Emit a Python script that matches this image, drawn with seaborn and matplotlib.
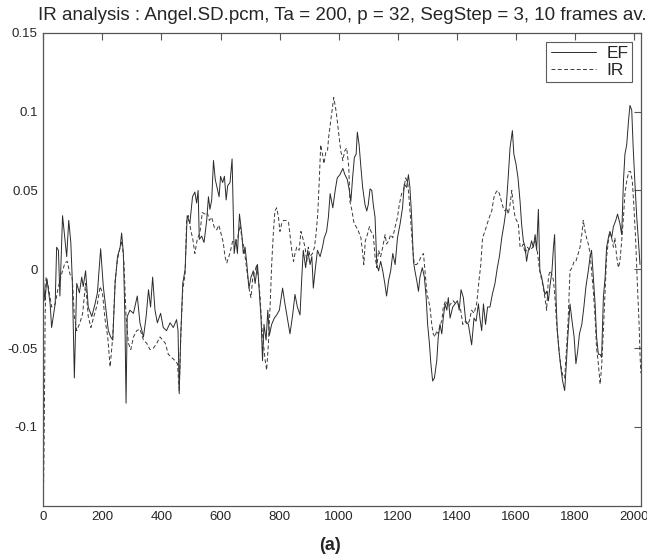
import numpy as np
import pandas as pd
import matplotlib
matplotlib.use("Agg")
import matplotlib.pyplot as plt
import seaborn as sns

# EF curve (solid)
ef_x = [0, 5, 12, 23, 28, 40, 45, 51, 56, 65, 73, 79, 86, 93, 98, 105, 113, 122, 130, 135,
        143, 152, 164, 175, 183, 194, 203, 211, 220, 228, 235, 243, 251, 260, 265, 271, 276, 280, 284, 293,
        305, 318, 327, 339, 348, 356, 363, 370, 378, 386, 397, 406, 417, 429, 440, 451, 456, 460, 465, 472,
        480, 487, 496, 505, 513, 519, 524, 528, 536, 544, 553, 559, 564, 570, 576, 582, 589, 595, 600, 607,
        613, 619, 624, 632, 639, 646, 652, 657, 664,
        672, 677, 683, 689, 696, 703, 711, 717, 725, 731, 737, 742, 747, 754, 760, 765, 773, 782, 790, 799,
        810, 818, 826, 835, 844, 852, 860, 869, 875, 880, 888, 895, 903, 909, 914, 920, 928, 937, 945, 951,
        959, 965, 971, 980, 988, 995, 1004, 1014, 1021, 1029, 1036, 1041, 1047, 1053, 1059, 1063, 1069, 1075,
        1081, 1089, 1095, 1100, 1106, 1112, 1117, 1123, 1129, 1135, 1142, 1149, 1156, 1162, 1169, 1176, 1183,
        1191, 1199, 1208, 1216, 1222, 1230, 1236, 1241, 1247, 1253, 1258, 1264, 1270, 1275, 1283, 1290, 1296,
        1301, 1307, 1312, 1318, 1324, 1332, 1337,
        1343, 1349, 1354, 1360, 1366, 1371, 1377, 1386, 1394, 1402, 1408, 1414, 1422, 1430, 1439, 1450, 1458,
        1465, 1473, 1478, 1484, 1490, 1497, 1504, 1512, 1520, 1529, 1537, 1544, 1552, 1560, 1566, 1573, 1580,
        1588, 1593, 1600, 1607, 1614, 1619, 1625, 1631, 1636, 1642, 1648, 1653, 1659, 1665, 1670, 1676, 1681,
        1687, 1693, 1698, 1704, 1710, 1715, 1722, 1727, 1731, 1736, 1740, 1747, 1753, 1758, 1765, 1770, 1775,
        1783, 1790, 1797, 1803, 1809, 1815, 1823, 1830, 1837, 1845, 1851, 1856, 1862, 1868, 1873, 1879, 1885,
        1890, 1896, 1902, 1907, 1913, 1918, 1924, 1930, 1938, 1944, 1952, 1958, 1964, 1969, 1975, 1981, 1986,
        1992, 1997, 2003, 2009, 2014, 2020]
ef_y = [-0.005, -0.020, -0.006, -0.022, -0.037, -0.022, 0.014, 0.012, -0.017, 0.034, 0.019, 0.008, 0.031, 0.017, -0.007, -0.069, -0.009, -0.015, -0.005, -0.011,
        -0.001, -0.024, -0.030, -0.022, -0.015, 0.013, -0.011, -0.024, -0.039, -0.043, -0.045, -0.009, 0.008, 0.014, 0.023, 0.010, -0.030, -0.085, -0.030, -0.026,
        -0.028, -0.017, -0.034, -0.043, -0.030, -0.013, -0.024, -0.005, -0.026, -0.034, -0.028, -0.037, -0.039, -0.034, -0.037, -0.032, -0.039, -0.079, -0.043, -0.009,
        0.000, 0.034, 0.029, 0.046, 0.049, 0.042, 0.050, 0.019, 0.021, 0.017, 0.031, 0.046, 0.038, 0.044, 0.069, 0.057, 0.051, 0.046, 0.059, 0.055,
        0.059, 0.044, 0.053, 0.055, 0.070, 0.010, 0.019, 0.010, 0.035,
        0.022, 0.010, 0.014, 0.003, -0.012, -0.005, -0.001, -0.009, 0.003, -0.014, -0.031, -0.058, -0.035, -0.045, -0.026, -0.042, -0.035, -0.031, -0.029, -0.026,
        -0.012, -0.022, -0.031, -0.041, -0.029, -0.016, -0.024, -0.029, -0.005, 0.012, 0.001, 0.012, 0.003, 0.008, -0.012, -0.001, 0.012, 0.008, 0.014, 0.020,
        0.024, 0.033, 0.048, 0.039, 0.050, 0.058, 0.060, 0.064, 0.060, 0.057, 0.050, 0.043, 0.058, 0.071, 0.073, 0.087, 0.079, 0.065,
        0.052, 0.041, 0.037, 0.041, 0.051, 0.050, 0.041, 0.033, 0.003, -0.001, 0.005, -0.001, -0.009, -0.017, -0.007, -0.001, 0.010,
        0.003, 0.020, 0.029, 0.039, 0.054, 0.052, 0.060, 0.052, 0.033, 0.005, -0.001, -0.007, -0.014, -0.005, 0.001, -0.005, -0.018,
        -0.035, -0.047, -0.060, -0.071, -0.069, -0.058, -0.043,
        -0.035, -0.041, -0.031, -0.022, -0.026, -0.018, -0.031, -0.024, -0.022, -0.020, -0.026, -0.013, -0.018, -0.033, -0.035, -0.048, -0.031,
        -0.033, -0.022, -0.031, -0.039, -0.022, -0.035, -0.024, -0.024, -0.016, -0.009, 0.001, 0.008, 0.020, 0.029, 0.037, 0.056, 0.077,
        0.088, 0.073, 0.067, 0.058, 0.043, 0.029, 0.018, 0.014, 0.005, 0.012, 0.014, 0.018, 0.014, 0.022, 0.012, 0.038, -0.001,
        -0.005, -0.011, -0.016, -0.014, -0.020, -0.011, -0.001, 0.014, 0.022, -0.020, -0.039, -0.054, -0.064, -0.071, -0.077, -0.062, -0.045,
        -0.022, -0.033, -0.043, -0.060, -0.052, -0.041, -0.035, -0.024, -0.011, -0.001, 0.008, 0.012, -0.005, -0.022, -0.043, -0.054, -0.054,
        -0.056, -0.018, -0.005, 0.014, 0.020, 0.024, 0.020, 0.027, 0.031, 0.035, 0.029, 0.022, 0.056, 0.073, 0.079, 0.094, 0.104,
        0.101, 0.077, 0.054, 0.033, 0.020, 0.003]

# IR curve (dashed)
ir_x = [0, 2, 4, 6, 9, 17, 28, 40, 51, 62, 73, 81, 90, 98, 105, 113, 124, 133, 143, 152,
        161, 171, 183, 192, 200, 209, 218, 226, 235, 243, 251, 260, 266, 273, 280, 288, 296, 305, 316, 327,
        339, 350, 361, 373, 384, 395, 404, 413, 423, 434, 446, 454, 460, 466, 472, 480, 485, 491, 499, 506,
        513, 521, 530, 538, 547, 555, 562, 570, 578, 587, 594, 601, 609, 615, 621, 628, 634, 641, 649, 657,
        666, 672, 679, 689, 698, 703, 709, 717, 722, 728, 734, 739, 745, 751, 756, 762, 768, 773, 779, 784,
        790, 796, 801, 807, 813, 822, 830, 835, 841, 847, 852, 858, 866, 872, 878, 886, 892, 897, 903, 911,
        918, 923, 929, 935, 939, 945, 950, 956, 962, 966, 973, 979, 983, 989, 994, 1000, 1007, 1014, 1020,
        1027, 1034, 1038, 1045, 1052, 1059, 1067, 1075, 1080, 1085, 1090, 1097, 1104, 1109, 1117, 1123, 1129,
        1135, 1142, 1149, 1157, 1162, 1169, 1176, 1183, 1191, 1199, 1205, 1213, 1219, 1227, 1234, 1239, 1245,
        1251, 1256, 1264, 1272, 1279, 1287, 1292, 1298, 1304, 1309, 1315, 1320, 1326, 1332, 1337,
        1343, 1349, 1354, 1362, 1371, 1379, 1388, 1396, 1405, 1413, 1420, 1428, 1435, 1442, 1450, 1458, 1467,
        1475, 1481, 1487, 1495, 1503, 1510, 1518, 1526, 1533, 1538, 1544, 1551, 1557, 1563, 1569, 1574, 1580,
        1586, 1591, 1597, 1602, 1608, 1614, 1619, 1625, 1631, 1639, 1648, 1657, 1665, 1672, 1679, 1685, 1690,
        1698, 1704, 1710, 1715, 1721, 1727, 1732, 1738, 1746, 1751, 1758, 1765, 1772, 1777, 1783, 1790, 1797,
        1803, 1811, 1817, 1823, 1828, 1834, 1839, 1845, 1851, 1856, 1862, 1868, 1873, 1879, 1885, 1890, 1896,
        1902, 1907, 1913, 1918, 1924, 1930, 1935, 1941, 1947, 1952, 1958, 1964, 1969, 1975, 1982, 1988, 1994,
        1999, 2005, 2011, 2017, 2020, 2023]
ir_y = [-0.148, -0.120, -0.080, -0.030, -0.005, -0.011, -0.024, -0.022, -0.011, -0.003, 0.004, 0.005, -0.003, -0.006, -0.030, -0.039, -0.034, -0.028, -0.009, -0.030,
        -0.037, -0.030, -0.022, -0.011, -0.015, -0.032, -0.043, -0.062, -0.043, -0.007, 0.006, 0.014, 0.018, 0.004, -0.030, -0.047, -0.051, -0.043, -0.039, -0.038,
        -0.045, -0.047, -0.051, -0.050, -0.047, -0.043, -0.045, -0.047, -0.054, -0.056, -0.058, -0.060, -0.077, -0.039, -0.013, -0.003, 0.031, 0.034, 0.025, 0.019,
        0.010, 0.019, 0.023, 0.036, 0.035, 0.036, 0.031, 0.033, 0.027, 0.025, 0.028, 0.023, 0.017, 0.008, 0.004, 0.008, 0.012, 0.018, 0.017, 0.019,
        0.028, 0.020, 0.014, -0.001, -0.014, -0.018, -0.005, -0.001, 0.003, -0.005, -0.018, -0.035, -0.047, -0.058, -0.064, -0.047, -0.022, 0.003, 0.024, 0.037,
        0.039, 0.033, 0.024, 0.029, 0.031, 0.031, 0.030, 0.022, 0.012, 0.005, 0.010, 0.014, 0.012, 0.024, 0.020, 0.014, 0.005, 0.014, 0.008, 0.010,
        0.014, 0.022, 0.035, 0.060, 0.079, 0.073, 0.067, 0.074, 0.075, 0.084, 0.094, 0.103, 0.109, 0.103, 0.096, 0.086, 0.075, 0.069, 0.075,
        0.077, 0.065, 0.043, 0.037, 0.029, 0.027, 0.024, 0.020, 0.012, 0.003, 0.018, 0.022, 0.027, 0.024, 0.022, 0.008, 0.001,
        0.012, 0.008, 0.014, 0.022, 0.016, 0.018, 0.022, 0.020, 0.027, 0.033, 0.041, 0.048, 0.050, 0.058, 0.054, 0.043, 0.027,
        0.012, 0.003, 0.003, 0.005, 0.008, 0.010, -0.001, -0.014, -0.020, -0.024, -0.035, -0.041, -0.043, -0.039, -0.041,
        -0.035, -0.033, -0.024, -0.020, -0.024, -0.022, -0.020, -0.022, -0.022, -0.026, -0.035, -0.033, -0.035, -0.033, -0.026, -0.028, -0.022,
        -0.007, 0.003, 0.020, 0.024, 0.029, 0.033, 0.037, 0.046, 0.049, 0.050, 0.048, 0.043, 0.039, 0.037, 0.039, 0.035, 0.041,
        0.050, 0.041, 0.033, 0.031, 0.029, 0.014, 0.014, 0.016, 0.010, 0.014, 0.012, 0.014, 0.018, 0.012, 0.001, -0.005, -0.009,
        -0.018, -0.026, -0.005, -0.001, -0.003, -0.007, -0.018, -0.035, -0.052, -0.060, -0.067, -0.069, -0.048, -0.031, -0.001, 0.001, 0.005,
        0.005, 0.010, 0.014, 0.022, 0.031, 0.024, 0.020, 0.016, 0.010, -0.001, -0.014, -0.031, -0.050, -0.060, -0.073, -0.062, -0.039,
        -0.014, 0.008, 0.018, 0.024, 0.020, 0.014, 0.020, 0.008, 0.001, 0.005, 0.018, 0.033, 0.048, 0.056, 0.062, 0.062, 0.056,
        0.041, 0.020, -0.009, -0.035, -0.054, -0.066]

x_ticks = [0, 200, 400, 600, 800, 1000, 1200, 1400, 1600, 1800, 2000]
y_ticks = [-0.1, -0.05, 0, 0.05, 0.1, 0.15]
y_labels = ["-0.1", "-0.05", "0", "0.05", "0.1", "0.15"]

ef = pd.DataFrame({"x": ef_x, "y": ef_y})
ir = pd.DataFrame({"x": ir_x, "y": ir_y})

sns.set_style("white")
plt.rcParams["font.family"] = ["Liberation Sans", "DejaVu Sans"]

fig = plt.figure(figsize=(6.47, 5.58), dpi=100)
ax = fig.add_axes([0.067, 0.094, 0.924, 0.847])

sns.lineplot(data=ef, x="x", y="y", ax=ax, color="#2b2b2b", lw=0.7, label="EF", sort=False)
sns.lineplot(data=ir, x="x", y="y", ax=ax, color="#3a3a3a", lw=0.7, label="IR", sort=False,
             linestyle=(0, (4, 2.5)))

ax.set_xlim(0, 2024)
ax.set_ylim(-0.15, 0.15)
ax.set_xticks(x_ticks)
ax.set_xticklabels([str(t) for t in x_ticks])
ax.set_yticks(y_ticks)
ax.set_yticklabels(y_labels)
ax.set_xlabel("")
ax.set_ylabel("")
ax.tick_params(direction="in", length=5, width=0.8, color="#555555", labelsize=9.5,
               top=True, right=True, labeltop=False, labelright=False, pad=4)
for s in ax.spines.values():
    s.set_color("#555555")
    s.set_linewidth(0.9)

ax.set_title("IR analysis : Angel.SD.pcm, Ta = 200, p = 32, SegStep = 3, 10 frames av.",
             fontsize=13.5, pad=9)

leg = ax.legend(loc="upper right", fontsize=12.5, frameon=True, fancybox=False,
                handlelength=2.6, borderaxespad=0.5, labelspacing=0.1, borderpad=0.25,
                handletextpad=0.6)
leg.get_frame().set_edgecolor("#333333")
leg.get_frame().set_linewidth(0.8)

fig.text(0.51, 0.022, "(a)", ha="center", va="center", fontsize=13, fontweight="bold")

fig.savefig("out.png", dpi=100)
